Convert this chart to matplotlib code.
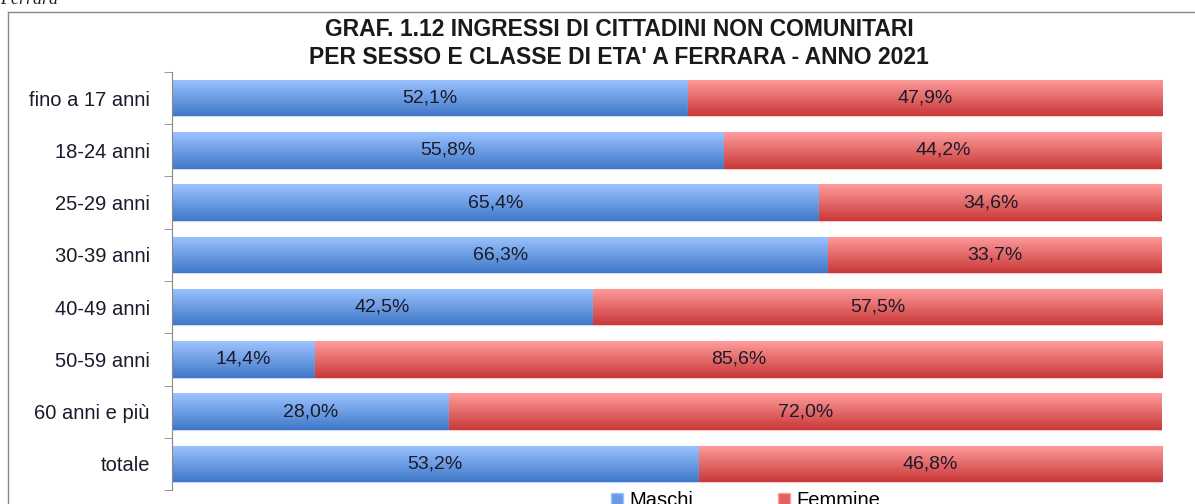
import numpy as np
import matplotlib
matplotlib.use('Agg')
import matplotlib.pyplot as plt
from matplotlib.colors import LinearSegmentedColormap
from matplotlib.patches import Patch

plt.rcParams['font.family'] = 'Liberation Sans'

categories = ['fino a 17 anni', '18-24 anni', '25-29 anni', '30-39 anni',
              '40-49 anni', '50-59 anni', '60 anni e più', 'totale']
maschi = [52.1, 55.8, 65.4, 66.3, 42.5, 14.4, 28.0, 53.2]
femmine = [47.9, 44.2, 34.6, 33.7, 57.5, 85.6, 72.0, 46.8]

blue_grad = LinearSegmentedColormap.from_list('b', ['#3f78c8', '#9cc3ff'])
red_grad = LinearSegmentedColormap.from_list('r', ['#c93838', '#ff9c9c'])
grad = np.linspace(0, 1, 64).reshape(-1, 1)

fig = plt.figure(figsize=(11.95, 5.04), dpi=100)
ax = fig.add_axes([172/1195, 1-490/504, 990/1195, 418/504])

y = np.arange(len(categories))
h = 0.7


def gradient_bars(lefts, widths, cmap, edge):
    bars = ax.barh(y, widths, left=lefts, height=h, color='none', edgecolor=edge, linewidth=0.8)
    for b in bars:
        x0, y0 = b.get_x(), b.get_y()
        im = ax.imshow(grad, cmap=cmap, aspect='auto', origin='lower',
                       extent=[x0, x0 + b.get_width(), y0 + b.get_height(), y0],
                       zorder=1)
        im.set_clip_path(b)
    return bars


gradient_bars(np.zeros(len(y)), maschi, blue_grad, '#c8dcff')
gradient_bars(np.array(maschi), femmine, red_grad, '#ffc8c8')

for i, (m, f) in enumerate(zip(maschi, femmine)):
    ax.text(m / 2, i, f"{m:.1f}%".replace('.', ','), ha='center', va='center',
            fontsize=14, color='#1a1a2a', zorder=3)
    ax.text(m + f / 2, i, f"{f:.1f}%".replace('.', ','), ha='center', va='center',
            fontsize=14, color='#1a1a2a', zorder=3)

ax.set_xlim(0, 100)
ax.set_ylim(len(y) - 0.5, -0.5)
ax.set_yticks(y)
ax.set_yticklabels(categories, fontsize=14.5, color='#1a1a2a')
ax.set_yticks(np.arange(-0.5, len(y)), minor=True)
ax.tick_params(axis='y', which='major', length=0, pad=16)
ax.tick_params(axis='y', which='minor', length=6, color='#888888', direction='out')
ax.set_xticks([])
for s in ['top', 'right', 'bottom']:
    ax.spines[s].set_visible(False)
ax.spines['left'].set_color('#888888')

fig.text(0.518, 1-30/504, "GRAF. 1.12 INGRESSI DI CITTADINI NON COMUNITARI", ha='center', va='center',
         fontsize=16.5, fontweight='bold', color='#1a1a1a')
fig.text(0.518, 1-57/504, "PER SESSO E CLASSE DI ETA' A FERRARA - ANNO 2021", ha='center', va='center',
         fontsize=16.5, fontweight='bold', color='#1a1a1a')

# outer chart frame
fig.add_artist(plt.Line2D([8/1195, 8/1195], [0, 1-12/504], transform=fig.transFigure, color='#888888', lw=1))
fig.add_artist(plt.Line2D([8/1195, 1], [1-12/504, 1-12/504], transform=fig.transFigure, color='#888888', lw=1))

fig.text(0.0, 1.0, "Ferrara", ha='left', va='center', fontsize=13, style='italic',
         family='Liberation Serif', color='#222222')

handles = [Patch(facecolor='#6a9ae6', edgecolor='#9cc3ff', label='Maschi'),
           Patch(facecolor='#e26262', edgecolor='#ff9c9c', label='Femmine')]
fig.legend(handles=handles, loc='center', bbox_to_anchor=(0.624, 1-501/504), ncol=2, frameon=False,
           fontsize=14.5, handlelength=0.6, handleheight=0.6, columnspacing=4.2, handletextpad=0.3)

fig.savefig('out.png', dpi=100, facecolor='white')
